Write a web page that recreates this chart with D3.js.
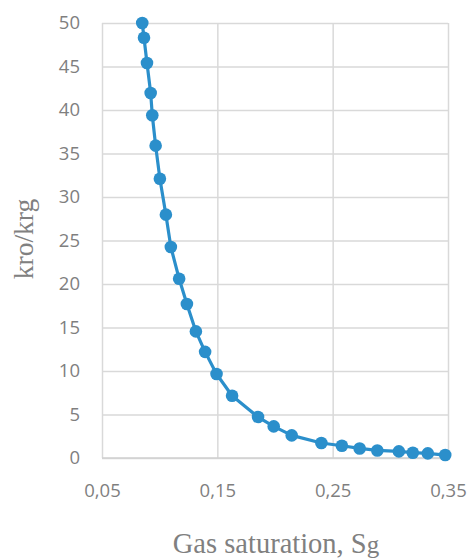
<!DOCTYPE html>
<html>
<head>
<meta charset="utf-8">
<script src="https://cdn.jsdelivr.net/npm/d3@7"></script>
<style>
  html, body { margin: 0; padding: 0; background: #fff; }
  svg { display: block; }
</style>
</head>
<body>
<svg id="chart" width="469" height="558"></svg>
<script>
// Data
const gasSaturation = [0.0849, 0.0864, 0.0890, 0.0922, 0.0936, 0.0965, 0.1002, 0.1054, 0.1097, 0.1169,
  0.1236, 0.1314, 0.1394, 0.1493, 0.1628, 0.1853, 0.1989, 0.2145, 0.2402, 0.2580,
  0.2734, 0.2887, 0.3074, 0.3195, 0.3325, 0.3476];
const kroKrg = [50.0, 48.3, 45.4, 41.95, 39.4, 35.9, 32.1, 27.97, 24.25, 20.6,
  17.7, 14.55, 12.2, 9.65, 7.16, 4.71, 3.63, 2.6, 1.72, 1.41,
  1.1, 0.87, 0.76, 0.61, 0.53, 0.34];
const xTicks = [0.05, 0.15, 0.25, 0.35];
const yTicks = [0, 5, 10, 15, 20, 25, 30, 35, 40, 45, 50];
const xTitle = "Gas saturation, S";
const xTitleSub = "g";
const yTitle = "kro/krg";

const svg = d3.select("#chart");
const plot = { left: 102, right: 448, top: 23, bottom: 458 };

const x = d3.scaleLinear().domain([0.05, 0.35]).range([plot.left, plot.right]);
const y = d3.scaleLinear().domain([0, 50]).range([plot.bottom, plot.top]);

const locale = d3.formatLocale({ decimal: ",", thousands: " ", grouping: [3], currency: ["", ""] });
const fmtX = locale.format(".2f");

const gridColor = "#d9d9d9";
const labelColor = "#7f7f7f";

// Y grid + labels
const yAxis = svg.append("g")
  .attr("transform", `translate(${plot.left},0)`)
  .call(d3.axisLeft(y).tickValues(yTicks).tickSize(-(plot.right - plot.left)).tickPadding(22).tickFormat(d3.format("d")));
yAxis.select(".domain").remove();
yAxis.selectAll(".tick line").attr("stroke", gridColor).attr("stroke-width", 1.5);
yAxis.selectAll(".tick text")
  .attr("fill", labelColor)
  .style("font-family", "'Open Sans', sans-serif")
  .style("font-size", "18.5px");

// X grid + labels
const xAxis = svg.append("g")
  .attr("transform", `translate(0,${plot.bottom})`)
  .call(d3.axisBottom(x).tickValues(xTicks).tickSize(-(plot.bottom - plot.top)).tickPadding(26).tickFormat(fmtX));
xAxis.select(".domain").remove();
xAxis.selectAll(".tick line").attr("stroke", gridColor).attr("stroke-width", 1.5);
xAxis.selectAll(".tick text")
  .attr("fill", labelColor)
  .style("font-family", "'Open Sans', sans-serif")
  .style("font-size", "18.5px");

// Baseline axis
svg.append("line")
  .attr("x1", plot.left).attr("x2", plot.right)
  .attr("y1", y(0)).attr("y2", y(0))
  .attr("stroke", "#d0d0d0").attr("stroke-width", 1.5);

const data = gasSaturation.map((d, i) => ({ x: d, y: kroKrg[i] }));
const color = "#2b8fcb";

svg.append("path")
  .datum(data)
  .attr("fill", "none")
  .attr("stroke", color)
  .attr("stroke-width", 3.2)
  .attr("stroke-linejoin", "round")
  .attr("d", d3.line().x(d => x(d.x)).y(d => y(d.y)));

svg.append("g").selectAll("circle")
  .data(data)
  .join("circle")
  .attr("cx", d => x(d.x))
  .attr("cy", d => y(d.y))
  .attr("r", 6.3)
  .attr("fill", color);

// Axis titles
const xt = svg.append("text")
  .attr("x", 276)
  .attr("y", 553)
  .attr("text-anchor", "middle")
  .attr("fill", "#808080")
  .style("font-family", "'Liberation Serif', 'Times New Roman', serif")
  .style("font-size", "28.5px")
  .text(xTitle);
xt.append("tspan").style("font-size", "25px").text(xTitleSub);

svg.append("text")
  .attr("transform", "translate(33,239) rotate(-90)")
  .attr("text-anchor", "middle")
  .attr("fill", "#808080")
  .style("font-family", "'Liberation Serif', 'Times New Roman', serif")
  .style("font-size", "27.5px")
  .text(yTitle);
</script>
</body>
</html>
